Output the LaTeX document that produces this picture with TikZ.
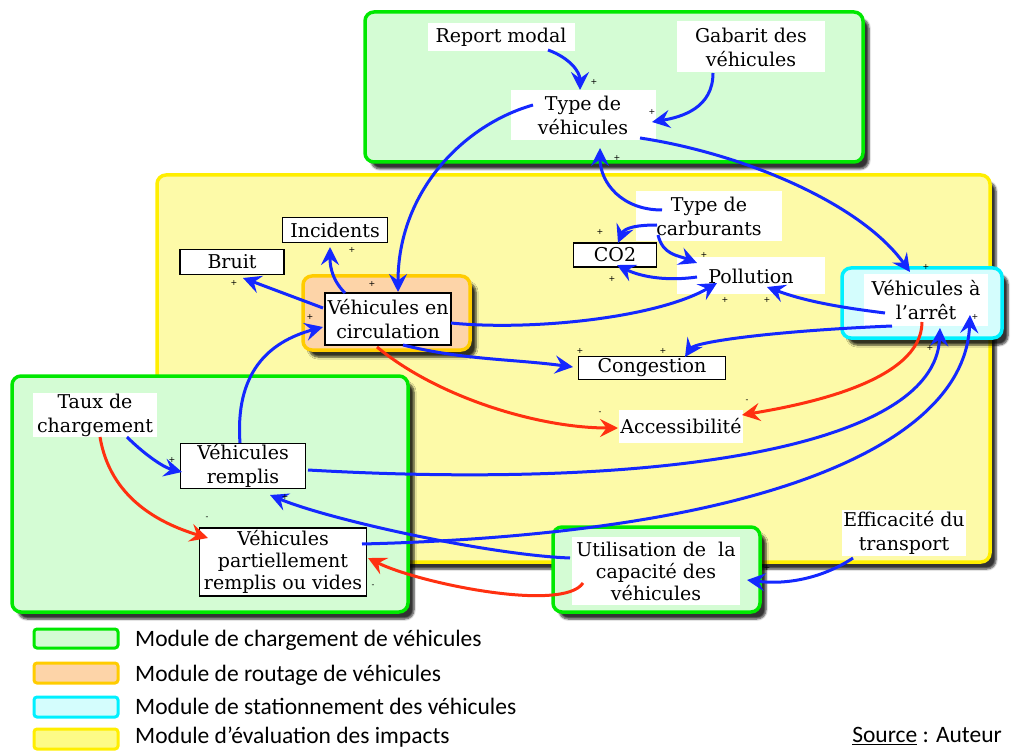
\documentclass[tikz,border=0pt]{standalone}
\usepackage{fontspec}
\setmainfont{DejaVu Serif}
\newfontfamily\signf{DejaVu Sans}
\newfontfamily\legf{Carlito}
\usetikzlibrary{arrows.meta,calc,shadows.blur}
\definecolor{gfill}{HTML}{D4FCD4}
\definecolor{gline}{HTML}{00E800}
\definecolor{yfill}{HTML}{FDFAA8}
\definecolor{yline}{HTML}{FFEE00}
\definecolor{ofill}{HTML}{FDD4A8}
\definecolor{oline}{HTML}{FFCC00}
\definecolor{cfill}{HTML}{D4FDFD}
\definecolor{cline}{HTML}{00F0FF}
\definecolor{myblue}{HTML}{1428FF}
\definecolor{myred}{HTML}{FF3010}
\begin{document}
\begin{tikzpicture}[x=1pt,y=-1pt,
  txt/.style={fill=white, inner sep=1pt, align=center, font=\fontsize{19}{24}\selectfont},
  three/.style={font=\fontsize{19}{22}\selectfont},
  bordered/.style={txt, draw=black, line width=1.5pt},
  module/.style={rounded corners=9pt, line width=3.5pt,
    blur shadow={shadow xshift=6pt, shadow yshift=-7pt, shadow blur steps=6, shadow opacity=80}},
  legbox/.style={rounded corners=3pt, line width=3pt},
  legtxt/.style={anchor=west, inner sep=0pt, font=\legf\fontsize{23.5}{26}\selectfont},
  sgn/.style={inner sep=0pt, font=\signf\fontsize{8}{8}\selectfont},
  pa/.style={draw=myblue, line width=3pt, -{Stealth[length=18pt,width=18pt,inset=6.5pt]}},
  na/.style={draw=myred, line width=3pt, -{Stealth[length=18pt,width=18pt,inset=6.5pt]}}
]
\useasboundingbox (0,0) rectangle (1017,751);

% modules
\draw[module, draw=yline, fill=yfill] (157,175) rectangle (990,562);
\draw[module, draw=gline, fill=gfill] (365,12) rectangle (863,162);
\draw[module, draw=gline, fill=gfill] (12,376) rectangle (408,612);
\draw[module, draw=gline, fill=gfill] (553,527) rectangle (760,612);
\draw[module, draw=oline, fill=ofill] (303,276) rectangle (470,350);
\draw[module, draw=cline, fill=cfill] (842,268) rectangle (1002,338);

% nodes
\node[txt, minimum width=147pt, minimum height=28pt] (rm) at (501,37) {Report modal};
\node[txt, minimum width=148pt, minimum height=51pt] (gab) at (751,47) {Gabarit des\\véhicules};
\node[txt, minimum width=145pt, minimum height=50pt] (tv) at (583,115) {Type de\\véhicules};
\node[bordered, minimum width=105pt, minimum height=25pt] (inc) at (335,230) {Incidents};
\node[bordered, minimum width=104pt, minimum height=25pt] (bruit) at (232,262) {Bruit};
\node[bordered, minimum width=126pt, minimum height=52pt] (vc) at (388,319) {Véhicules en\\circulation};
\node[txt, minimum width=146pt, minimum height=50pt] (tc) at (709,216) {Type de\\carburants};
\node[bordered, minimum width=83pt, minimum height=24pt] (co2) at (615,255) {CO2};
\node[txt, minimum width=148pt, minimum height=37pt] (poll) at (751,276) {Pollution};
\node[txt, minimum width=124pt, minimum height=51pt] (va) at (926,300) {Véhicules à\\l’arrêt};
\node[bordered, minimum width=147pt, minimum height=23pt] (cong) at (652,368) {Congestion};
\node[txt, minimum width=124pt, minimum height=33pt] (acc) at (681,426) {Accessibilité};
\node[txt, minimum width=124pt, minimum height=44pt] (taux) at (95,415) {Taux de\\chargement};
\node[bordered, minimum width=125pt, minimum height=45pt] (vr) at (243,466) {Véhicules\\remplis};
\node[bordered, three, minimum width=167pt, minimum height=68pt] (vp) at (283,562) {Véhicules\\partiellement\\remplis ou vides};
\node[txt, three, minimum width=168pt, minimum height=68pt] (util) at (656,571) {Utilisation de~ la\\capacité des\\véhicules};
\node[txt, minimum width=122pt, minimum height=45pt] (eff) at (904,533) {Efficacité du\\transport};

% connectors
\draw[pa] ($(rm)+(47,13)$) .. controls +(22,8) and +(0,-18) .. ($(tv)+(-3,-25)$);
\draw[pa] ($(gab)+(-38,26)$) .. controls +(0,35) and +(30,-5) .. ($(tv)+(69,7)$);
\draw[pa] ($(tv)+(-50,-10)$) .. controls +(-70,20) and +(0,-100) .. ($(vc)+(10,-27)$);
\draw[pa] ($(tv)+(57,23)$) .. controls +(100,15) and +(-50,-70) .. ($(va)+(-16,-28)$);
\draw[pa] ($(tc)+(-47,-6)$) .. controls +(-40,0) and +(0,35) .. ($(tv)+(17,33)$);
\draw[pa] ($(tc)+(-52,9)$) .. controls +(-30,0) and +(5,-12) .. ($(co2)+(3,-12)$);
\draw[pa] ($(tc)+(-51,19)$) .. controls +(5,20) and +(-20,-8) .. ($(poll)+(-54,-13)$);
\draw[pa] ($(poll)+(-54,1)$) .. controls +(-35,5) and +(20,10) .. ($(co2)+(2,10)$);
\draw[pa] ($(vc)+(63,4)$) .. controls +(80,8) and +(-60,35) .. ($(poll)+(-34,7)$);
\draw[pa] ($(va)+(-41,13)$) .. controls +(-40,-5) and +(40,15) .. ($(poll)+(16,11)$);
\draw[pa] ($(va)+(-34,26)$) .. controls +(-120,5) and +(10,-15) .. ($(cong)+(33,-11)$);
\draw[pa] ($(vc)+(15,26)$) .. controls +(60,15) and +(-60,-8) .. ($(cong)+(-79,-1)$);
\draw[na] ($(vc)+(-11,28)$) .. controls +(60,50) and +(-80,0) .. ($(acc)+(-63,2)$);
\draw[na] ($(va)+(-4,22)$) .. controls +(0,60) and +(60,-10) .. ($(acc)+(61,-11)$);
\draw[pa] ($(taux)+(32,22)$) .. controls +(15,15) and +(-20,-5) .. ($(vr)+(-61,6)$);
\draw[na] ($(taux)+(5,22)$) .. controls +(10,60) and +(-50,-15) .. ($(vp)+(-75,-24)$);
\draw[pa] ($(vr)+(-3,-23)$) .. controls +(-5,-70) and +(-55,15) .. ($(vc)+(-65,8)$);
\draw[pa] ($(vr)+(65,4)$) .. controls +(350,20) and +(-5,120) .. ($(va)+(14,28)$);
\draw[pa] ($(vp)+(79,-18)$) .. controls +(400,-10) and +(-5,130) .. ($(va)+(44,15)$);
\draw[pa] ($(util)+(-86,-13)$) .. controls +(-80,-3) and +(60,25) .. ($(vr)+(27,29)$);
\draw[na] ($(util)+(-73,12)$) .. controls +(-20,30) and +(50,25) .. ($(vp)+(85,-4)$);
\draw[pa] ($(eff)+(-51,25)$) .. controls +(-30,20) and +(40,5) .. ($(util)+(91,9)$);
\draw[pa] ($(vc)+(-43,-26)$) .. controls +(-15,-15) and +(0,15) .. ($(inc)+(-5,17)$);
\draw[pa] ($(vc)+(-65,-11)$) -- ($(bruit)+(11,16)$);

% signs
\node[sgn] (s1) at (594,82) {+};
\node[sgn] (s2) at (652,112) {+};
\node[sgn] (s3) at (617,158) {+};
\node[sgn] (s4) at (352,250) {+};
\node[sgn] (s5) at (234,283) {+};
\node[sgn] (s6) at (372,284) {+};
\node[sgn] (s7) at (310,317) {+};
\node[sgn] (s8) at (600,232) {+};
\node[sgn] (s9) at (612,279) {+};
\node[sgn] (s10) at (704,255) {+};
\node[sgn] (s11) at (725,300) {+};
\node[sgn] (s12) at (767,300) {+};
\node[sgn] (s13) at (926,267) {+};
\node[sgn] (s14) at (975,317) {+};
\node[sgn] (s15) at (930,348) {+};
\node[sgn] (s16) at (580,351) {+};
\node[sgn] (s17) at (663,351) {+};
\node[sgn] (s18) at (600,413) {-};
\node[sgn] (s19) at (747,401) {-};
\node[sgn] (s20) at (172,460) {+};
\node[sgn] (s21) at (207,518) {-};
\node[sgn] (s22) at (285,497) {+};
\node[sgn] (s23) at (373,586) {-};
\node[sgn] (s24) at (767,568) {+};

% legend
\draw[legbox, draw=gline, fill=gfill] (34,629) rectangle (118,648);
\draw[legbox, draw=oline, fill=ofill] (34,663) rectangle (118,683);
\draw[legbox, draw=cline, fill=cfill] (34,697) rectangle (118,717);
\draw[legbox, draw=yline, fill=yfill!80!yellow] (34,729) rectangle (118,749);
\node[legtxt] (l1) at (135,640) {Module de chargement de véhicules};
\node[legtxt] (l2) at (135,675) {Module de routage de véhicules};
\node[legtxt] (l3) at (135,706) {Module de stationnement des véhicules};
\node[legtxt] (l4) at (135,737) {Module d’évaluation des impacts};
\node[legtxt, anchor=east] (src) at (1002,736) {\underline{Source} : Auteur};
\end{tikzpicture}
\end{document}
